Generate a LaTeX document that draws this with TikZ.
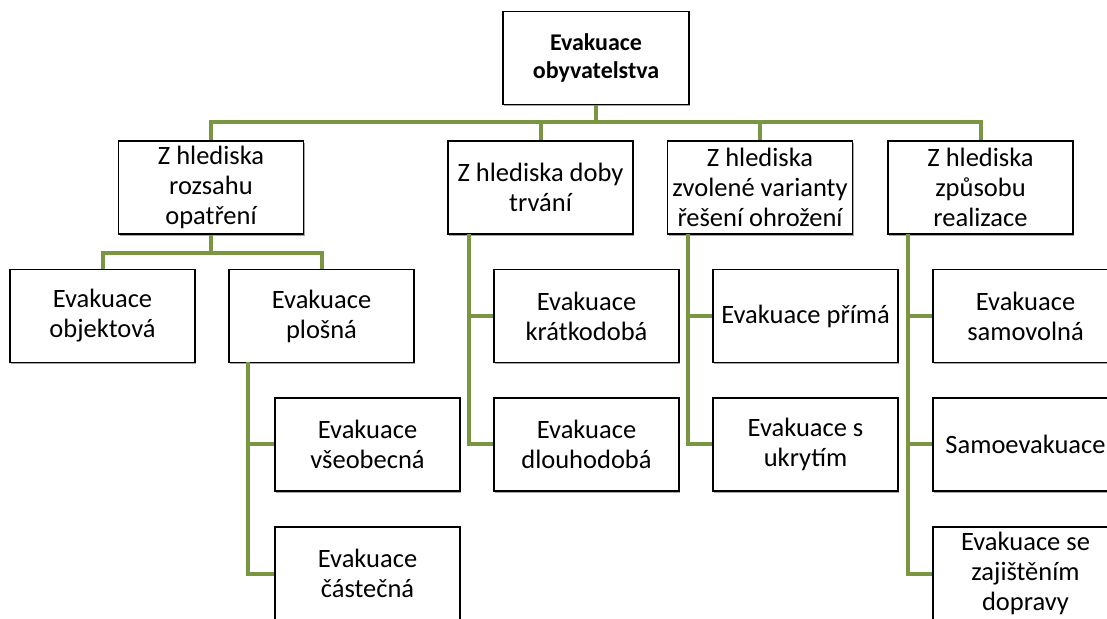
\documentclass[tikz,border=0pt]{standalone}
\usepackage{fontspec}
\setmainfont{Carlito}
\usetikzlibrary{shadows}
\definecolor{linegreen}{RGB}{122,150,66}
\begin{document}
\begin{tikzpicture}[x=1pt,y=1pt,
  box/.style={draw=black,line width=1.6pt,fill=white,minimum width=185pt,minimum height=93pt,
    align=center,inner sep=1pt,font=\fontsize{26.5}{30}\selectfont,
    drop shadow={shadow xshift=1.3pt,shadow yshift=-1.6pt,fill=black,opacity=0.35}},
  conn/.style={draw=linegreen,line width=4pt}]
\useasboundingbox (0,0) rectangle (1107,618);
\clip (0,0) rectangle (1107,618);
% y = 618 - y_img
\node[box,font=\bfseries\fontsize{24}{27.5}\selectfont,minimum width=186pt] (top) at (596,560) {Evakuace\\obyvatelstva};
\node[box] (h1) at (211,430.5) {Z hlediska\\rozsahu\\opatření};
\node[box] (h2) at (540.5,430.5) {Z hlediska doby\\trvání};
\node[box] (h3) at (760,430.5) {Z hlediska\\zvolené varianty\\řešení ohrožení};
\node[box] (h4) at (980.5,430.5) {Z hlediska\\způsobu\\realizace};
\node[box] (obj) at (102.5,302) {Evakuace\\objektová};
\node[box] (plo) at (321.5,302) {Evakuace\\plošná};
\node[box] (vse) at (367.5,173.5) {Evakuace\\všeobecná};
\node[box] (cast) at (367.5,44.5) {Evakuace\\částečná};
\node[box] (krat) at (586.5,302) {Evakuace\\krátkodobá};
\node[box] (dlou) at (586.5,173.5) {Evakuace\\dlouhodobá};
\node[box] (prima) at (805.5,302) {Evakuace přímá};
\node[box] (ukryt) at (805.5,173.5) {Evakuace s\\ukrytím};
\node[box] (samov) at (1025.5,302) {Evakuace\\samovolná};
\node[box] (samoe) at (1025.5,173.5) {Samoevakuace};
\node[box] (dopr) at (1025.5,44.5) {Evakuace se\\zajištěním\\dopravy};
% top-level bus
\coordinate (bus) at (596,496);
\draw[conn] (top.south) -- (bus);
\draw[conn] (bus) -| (h1.north);
\draw[conn] (bus) -| (h2.north);
\draw[conn] (bus) -| (h3.north);
\draw[conn] (bus) -| (h4.north);
% under h1
\coordinate (b1) at (211,365);
\draw[conn] (h1.south) -- (b1);
\draw[conn] (b1) -| (obj.north);
\draw[conn] (b1) -| (plo.north);
% under plo
\coordinate (p0) at (248,255.5);
\draw[conn] (p0) |- (vse.west);
\draw[conn] (p0) |- (cast.west);
% under h2
\coordinate (q0) at (469,384);
\draw[conn] (q0) |- (krat.west);
\draw[conn] (q0) |- (dlou.west);
% under h3
\coordinate (r0) at (688,384);
\draw[conn] (r0) |- (prima.west);
\draw[conn] (r0) |- (ukryt.west);
% under h4
\coordinate (s0) at (908,384);
\draw[conn] (s0) |- (samov.west);
\draw[conn] (s0) |- (samoe.west);
\draw[conn] (s0) |- (dopr.west);
\end{tikzpicture}
\end{document}
